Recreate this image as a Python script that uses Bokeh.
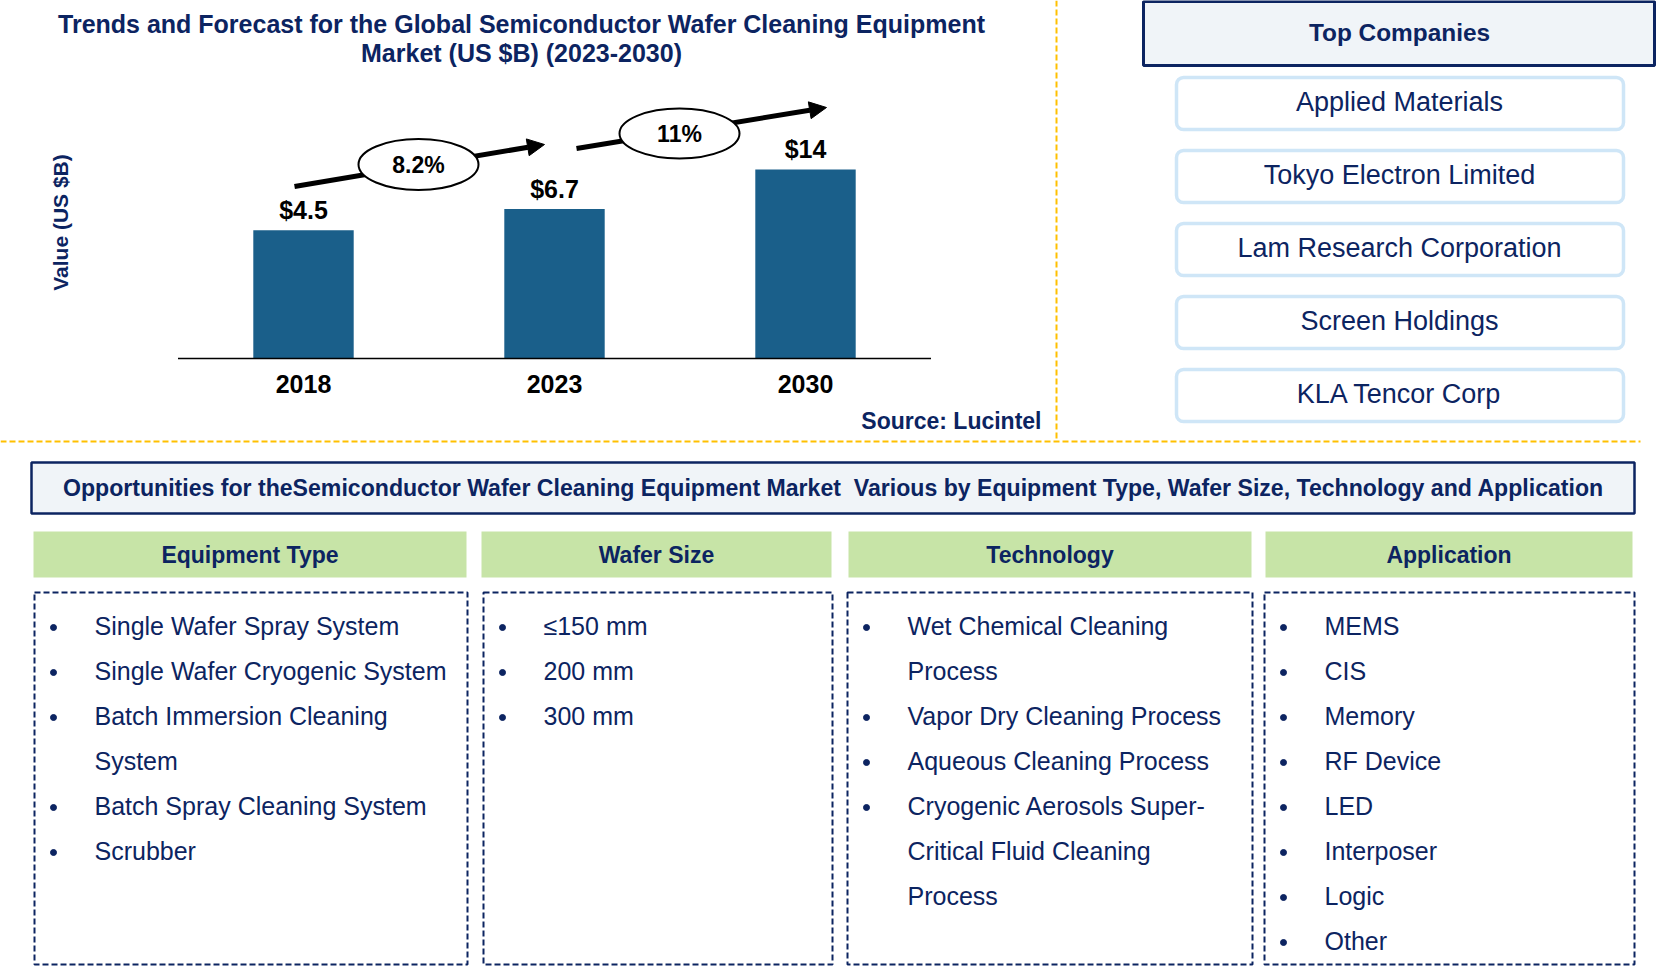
import math
from bokeh.plotting import figure
from bokeh.models import Range1d, LogScale, Arrow, NormalHead, BoxAnnotation, ColumnDataSource
from bokeh.core.properties import value
from bokeh.embed import file_html
from bokeh.resources import INLINE

# ---------------- data ----------------
years = ["2018", "2023", "2030"]
market_values = [4.5, 6.7, 14.0]
value_labels = ["$4.5", "$6.7", "$14"]
cagr_labels = ["8.2%", "11%"]
chart_title = ["Trends and Forecast for the Global Semiconductor Wafer Cleaning Equipment",
               "Market (US $B) (2023-2030)"]
y_axis_label = "Value (US $B)"
source_note = "Source: Lucintel"
companies_title = "Top Companies"
companies = ["Applied Materials", "Tokyo Electron Limited", "Lam Research Corporation",
             "Screen Holdings", "KLA Tencor Corp"]
banner_text = ("Opportunities for theSemiconductor Wafer Cleaning Equipment Market\u00a0 Various by "
               "Equipment Type, Wafer Size, Technology and Application")
segment_titles = ["Equipment Type", "Wafer Size", "Technology", "Application"]
equipment_types = ["Single Wafer Spray System", "Single Wafer Cryogenic System",
                   "Batch Immersion Cleaning\nSystem", "Batch Spray Cleaning System", "Scrubber"]
wafer_sizes = ["\u2264150 mm", "200 mm", "300 mm"]
technologies = ["Wet Chemical Cleaning\nProcess", "Vapor Dry Cleaning Process",
                "Aqueous Cleaning Process",
                "Cryogenic Aerosols Super-\nCritical Fluid Cleaning\nProcess"]
applications = ["MEMS", "CIS", "Memory", "RF Device", "LED", "Interposer", "Logic", "Other"]
segment_items = [equipment_types, wafer_sizes, technologies, applications]

# ---------------- style ----------------
NAVY = "#0C2461"
BAR = "#1A5F8A"
GOLD = "#FFC000"
GREEN = "#C7E4A7"
PALE = "#F0F4F8"
LIGHTBLUE = "#CFE6F7"
FONT = value("Liberation Sans")

W, H = 1658, 970
X0, Y0 = 0, 0

p = figure(width=W, height=H, x_range=Range1d(X0, X0 + W), y_range=Range1d(Y0 + H, Y0),
           x_axis_type=None, y_axis_type=None, output_backend="svg",
           toolbar_location=None, min_border=0, outline_line_color=None)
p.background_fill_color = "white"


def txt(x, y, t, size, color=NAVY, bold=False, align="center", angle=0, **kw):
    p.text(x=x, y=y, text=t, text_font=FONT, text_font_size=f"{size}px",
           text_font_style="bold" if bold else "normal", text_color=color,
           text_align=align, text_baseline="middle", angle=angle, **kw)


# ---------------- bar chart (own scales) ----------------
BASE_Y = 358        # pixel row of the baseline
PX_LOG = 53.5       # pixels per e-fold of value
FLOOR = 0.409       # value sitting on the baseline
BAR_X0, BAR_STEP = 303, 251

p.extra_y_ranges = {"val": Range1d(FLOOR * math.exp(-(Y0 + H - BASE_Y) / PX_LOG),
                                   FLOOR * math.exp((BASE_Y - Y0) / PX_LOG))}
p.extra_y_scales = {"val": LogScale()}
p.extra_x_ranges = {"cat": Range1d((X0 - BAR_X0) / BAR_STEP, (X0 + W - BAR_X0) / BAR_STEP)}

idx = list(range(len(years)))
src = ColumnDataSource(dict(x=idx, top=market_values, year=years, label=value_labels))
p.vbar(x="x", top="top", bottom=FLOOR, width=0.4, source=src,
       x_range_name="cat", y_range_name="val", fill_color=BAR, line_color=None)
p.segment(x0=[-0.5], x1=[len(years) - 0.5], y0=[FLOOR], y1=[FLOOR],
          x_range_name="cat", y_range_name="val", line_color="black", line_width=1.5)
p.text(x="x", y="top", text="label", source=src, x_range_name="cat", y_range_name="val",
       y_offset=-20, text_font=FONT, text_font_size="25px", text_font_style="bold",
       text_color="black", text_align="center", text_baseline="middle")
p.text(x="x", y=FLOOR, text="year", source=src, x_range_name="cat", y_range_name="val",
       y_offset=25, text_font=FONT, text_font_size="25px", text_font_style="bold",
       text_color="black", text_align="center", text_baseline="middle")

# growth arrows with CAGR ellipses
arrows = [((294, 186), (544, 144)), ((576, 148), (826, 107))]
for (xs, ys), (xe, ye) in arrows:
    p.add_layout(Arrow(x_start=xs, y_start=ys, x_end=xe, y_end=ye, line_width=5,
                       line_color="black", level="underlay",
                       end=NormalHead(size=17, fill_color="black", line_color="black")))
ell_x, ell_y = [418, 679], [164, 133]
p.ellipse(x=ell_x, y=ell_y, width=[120, 120], height=[51, 50],
          fill_color="white", line_color="black", line_width=2)
txt(ell_x, ell_y, cagr_labels, 23, color="black", bold=True)

# titles
txt([521, 521], [23, 52], chart_title, 25, bold=True)
txt([60], [222], [y_axis_label], 21, bold=True, angle=math.pi / 2)
txt([1041], [420], [source_note], 23, bold=True, align="right")

# gold dashed separators
p.segment(x0=[1056, 0], y0=[0, 441], x1=[1056, 1640], y1=[440, 441],
          line_color=GOLD, line_width=2, line_dash="6 3")

# ---------------- top companies ----------------
p.quad(left=[1143], right=[1654], top=[1], bottom=[65], fill_color=PALE,
       line_color=NAVY, line_width=3)
txt([1399], [32], [companies_title], 24.4, bold=True)
comp_y = []
for i, c in enumerate(companies):
    cy = 103 + 73 * i
    comp_y.append(cy)
    p.add_layout(BoxAnnotation(left=1176, right=1623, top=cy - 26, bottom=cy + 26,
                               fill_color="white", fill_alpha=1, line_color=LIGHTBLUE,
                               line_alpha=1, line_width=3.5, border_radius=7,
                               level="underlay"))
txt([1399] * len(companies), [y - 2 for y in comp_y], companies, 27)

# ---------------- opportunities ----------------
p.quad(left=[31], right=[1634], top=[462], bottom=[513], fill_color=PALE,
       line_color=NAVY, line_width=2.5)
txt([833], [487], [banner_text], 23.1, bold=True)

h_left = [33, 481, 848, 1265]
h_right = [466, 831, 1251, 1632]
p.quad(left=h_left, right=h_right, top=531, bottom=577, fill_color=GREEN, line_color=None)
txt([(a + b) / 2 for a, b in zip(h_left, h_right)], [554] * 4, segment_titles, 23, bold=True)

b_left = [34, 483, 847, 1264]
b_right = [467, 832, 1252, 1634]
p.quad(left=b_left, right=b_right, top=592, bottom=964, fill_color=None,
       line_color=NAVY, line_width=2, line_dash="6 3")

bx, by, tx, ty, tt = [], [], [], [], []
for left, items in zip(b_left, segment_items):
    k = 0
    for item in items:
        for j, line in enumerate(item.split("\n")):
            yy = 627 + 45 * k
            if j == 0:
                bx.append(left + 19)
                by.append(yy)
            tx.append(left + 60)
            ty.append(yy - 2)
            tt.append(line)
            k += 1
p.scatter(x=bx, y=by, size=6, marker="circle", fill_color=NAVY, line_color=NAVY)
txt(tx, ty, tt, 25, align="left")

open("out.html", "w").write(file_html(p, INLINE))
